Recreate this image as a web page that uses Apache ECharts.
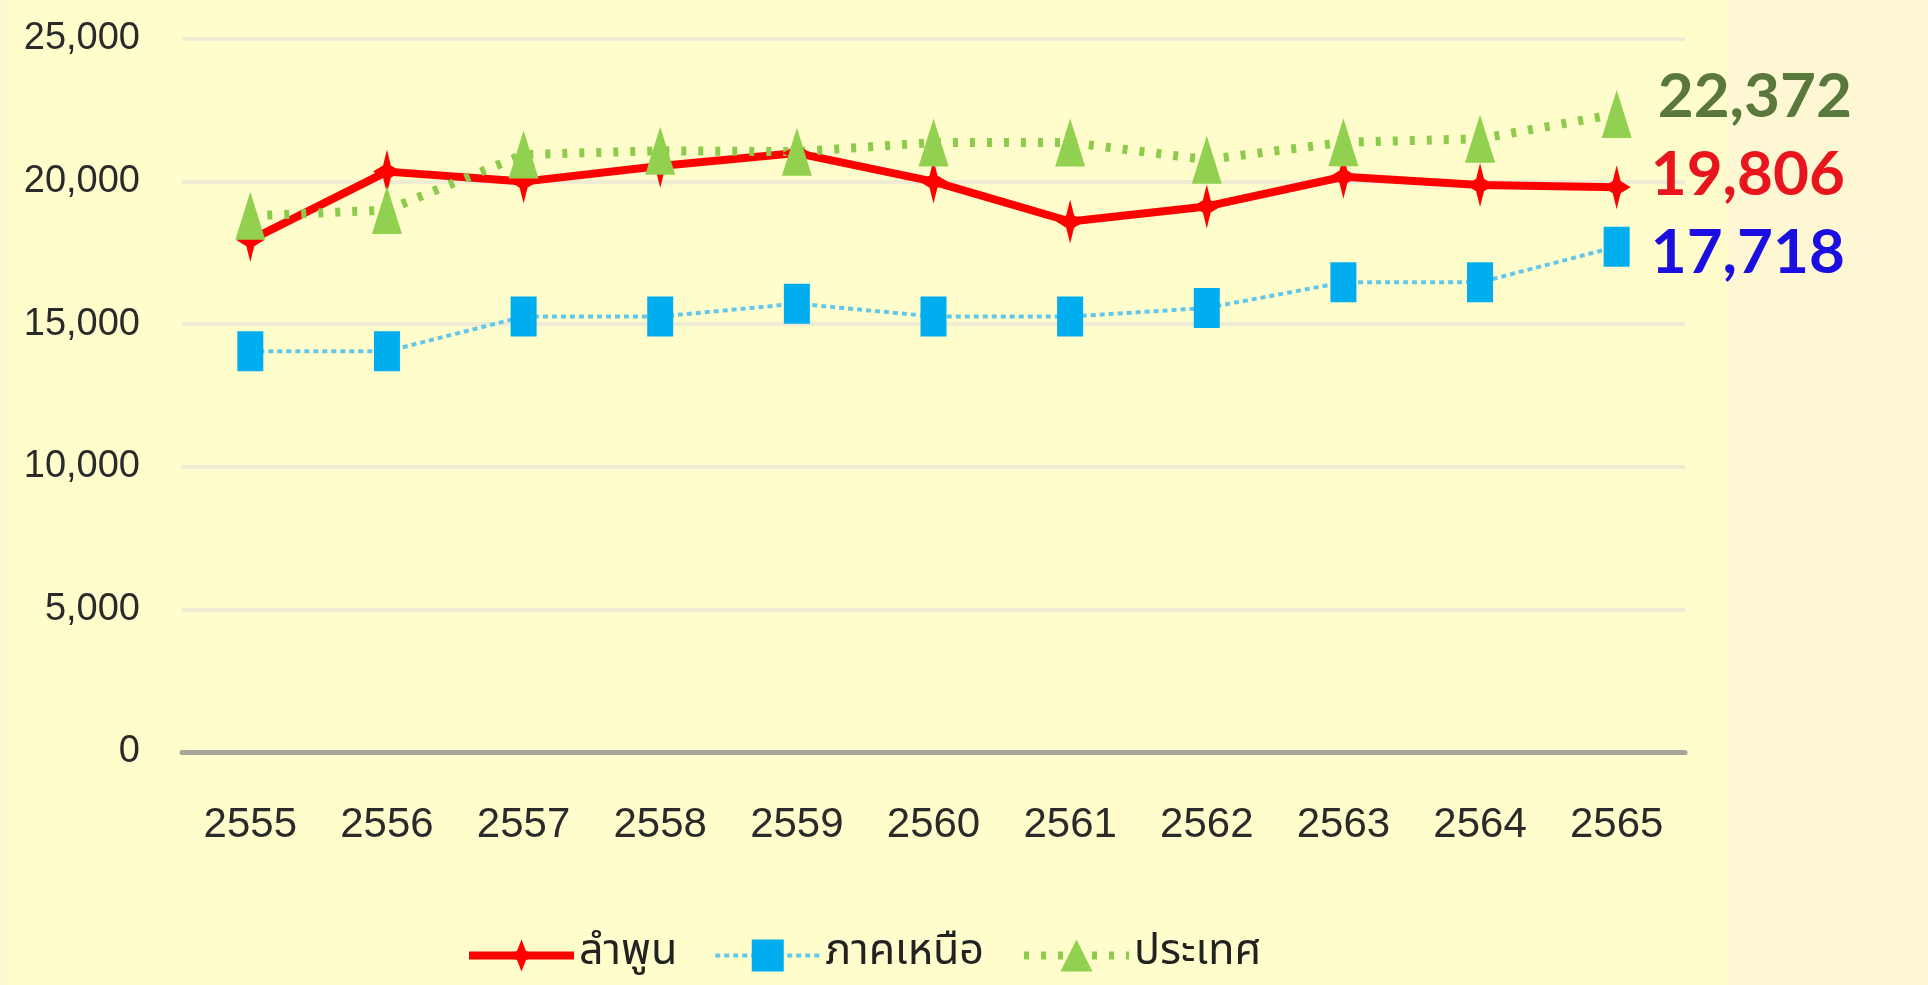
<!DOCTYPE html>
<html>
<head>
<meta charset="utf-8">
<script src="https://cdn.jsdelivr.net/npm/echarts@6/dist/echarts.min.js"></script>
<style>
html,body{margin:0;padding:0;background:#FFFDCC;}
#chart{width:1928px;height:985px;}
</style>
</head>
<body>
<div id="chart"></div>
<script>
const years = ['2555','2556','2557','2558','2559','2560','2561','2562','2563','2564','2565'];
const lamphun = [17950, 20350, 20000, 20550, 21000, 20000, 18600, 19130, 20170, 19880, 19806];
const north = [14050, 14050, 15270, 15270, 15720, 15270, 15270, 15570, 16470, 16470, 17718];
const country = [18800, 19000, 20950, 21080, 21050, 21370, 21370, 20770, 21380, 21500, 22372];
const seriesNames = ['ลำพูน', 'ภาคเหนือ', 'ประเทศ'];
const yTicks = [0, 5000, 10000, 15000, 20000, 25000];

const fmt = v => Number(v).toLocaleString('en-US');
const starPath = 'path://M50,0 L64,36 L100,50 L64,64 L50,100 L36,64 L0,50 L36,36 Z';
const valueFont = 'Lato, "Open Sans", sans-serif';
const axisFont = '"Liberation Sans Narrow", "Arial Narrow", "Liberation Sans", sans-serif';

const chart = echarts.init(document.getElementById('chart'), null, {renderer: 'canvas'});
chart.setOption({
  animation: false,
  backgroundColor: '#FFFDCC',
  graphic: [
    {type: 'rect', shape: {x: 1727, y: 0, width: 201, height: 985}, style: {fill: '#FDF8D3'}, z: -10},
    {type: 'rect', shape: {x: 0, y: 0, width: 9, height: 985}, style: {fill: '#FBF7CF'}, z: -10}
  ],
  grid: {left: 182, right: 243, top: 39, bottom: 233, containLabel: false},
  legend: {
    left: 460, top: 929,
    itemWidth: 105, itemHeight: 40, itemGap: 36,
    textStyle: {fontFamily: '"Noto Sans Thai", "Noto Sans Thai UI", "Noto Sans", sans-serif', fontSize: 43, color: '#222'},
    data: [
      {name: seriesNames[0], lineStyle: {width: 8}},
      {name: seriesNames[1], lineStyle: {width: 4}},
      {name: seriesNames[2], lineStyle: {width: 8}}
    ]
  },
  xAxis: {
    type: 'category',
    data: years,
    boundaryGap: true,
    axisTick: {show: false},
    axisLine: {lineStyle: {color: '#A5A59A', width: 5}},
    axisLabel: {interval: 0, fontFamily: axisFont, fontSize: 42, color: '#2a2a2a', margin: 52}
  },
  yAxis: {
    type: 'value',
    min: yTicks[0], max: yTicks[yTicks.length - 1], interval: yTicks[1] - yTicks[0],
    axisLine: {show: false},
    axisTick: {show: false},
    splitLine: {lineStyle: {color: '#EEECD2', width: 4}},
    axisLabel: {fontFamily: axisFont, fontSize: 38, color: '#2a2a2a', margin: 42, formatter: v => fmt(v)}
  },
  series: [
    {
      name: seriesNames[0], type: 'line', data: lamphun,
      symbol: starPath, symbolSize: [28, 44], showAllSymbol: true,
      itemStyle: {color: '#FF0000'},
      lineStyle: {color: '#FF0000', width: 8},
      endLabel: {show: true, distance: 34, offset: [0, -12], formatter: p => fmt(p.value),
        fontFamily: valueFont, fontWeight: 'bold', fontSize: 62, color: '#E8161C'}
    },
    {
      name: seriesNames[1], type: 'line', data: north,
      symbol: 'rect', symbolSize: [26, 40], showAllSymbol: true,
      itemStyle: {color: '#00AEEF'},
      lineStyle: {color: '#63C7EA', width: 4, type: [5, 4], cap: 'butt'},
      endLabel: {show: true, distance: 34, offset: [0, 6], formatter: p => fmt(p.value),
        fontFamily: valueFont, fontWeight: 'bold', fontSize: 62, color: '#1A0EE0'}
    },
    {
      name: seriesNames[2], type: 'line', data: country,
      symbol: 'triangle', symbolSize: [30, 48], showAllSymbol: true,
      itemStyle: {color: '#92D050'},
      lineStyle: {color: '#8CCB4C', width: 9, type: [5, 12], cap: 'butt'},
      endLabel: {show: true, distance: 41, offset: [0, -17], formatter: p => fmt(p.value),
        fontFamily: valueFont, fontWeight: 'bold', fontSize: 62, color: '#5A773C'}
    }
  ]
});
</script>
</body>
</html>
